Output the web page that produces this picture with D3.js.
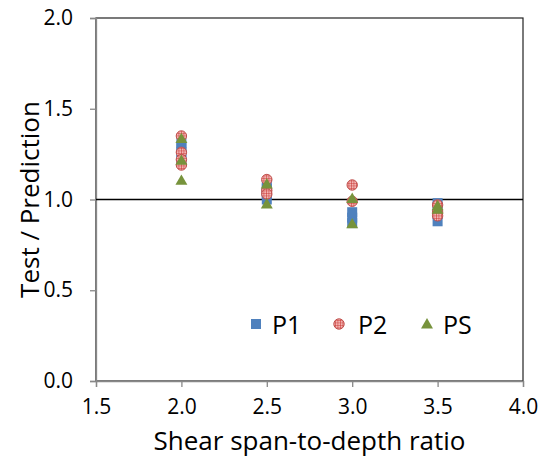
<!DOCTYPE html>
<html>
<head>
<meta charset="utf-8">
<script src="https://cdn.jsdelivr.net/npm/d3@7"></script>
<style>
  body { margin: 0; background: #fff; }
  text { font-family: "Open Sans", Lato, sans-serif; fill: #000; }
</style>
</head>
<body>
<svg class="chart"></svg>
<script>
// Valores
var ratios = [2.0, 2.5, 3.0, 3.5];
var p1 = [[1.22, 1.26, 1.29, 1.31], [1.00, 1.03, 1.06, 1.08], [0.87, 0.90, 0.93], [0.88, 0.92, 0.96, 0.98]];
var p2 = [[1.35, 1.26, 1.22, 1.19], [1.11, 1.05, 1.03], [1.08, 0.99], [0.97, 0.93, 0.91]];
var ps = [[1.33, 1.21, 1.10], [1.08, 0.97], [1.00, 0.86], [0.96, 0.94]];
var xTicks = [1.5, 2.0, 2.5, 3.0, 3.5, 4.0];
var yTicks = [0.0, 0.5, 1.0, 1.5, 2.0];
var seriesNames = ["P1", "P2", "PS"];

var W = 548, H = 457;
var margin = {top: 18, right: 25, bottom: 76, left: 96},
    width = W - margin.left - margin.right,
    height = H - margin.top - margin.bottom;

var svg = d3.select(".chart").attr("width", W).attr("height", H);

// patron de la marca circular
var pat = svg.append("defs").append("pattern")
    .attr("id", "hatch").attr("patternUnits", "userSpaceOnUse")
    .attr("width", 2.5).attr("height", 2.5);
pat.append("rect").attr("width", 2.5).attr("height", 2.5).attr("fill", "#f2b4b2");
pat.append("path").attr("d", "M0,0H2.5M0,0V2.5").attr("stroke", "#c8302c").attr("stroke-width", 1);

var chart = svg.append("g").attr("transform", "translate(" + margin.left + "," + margin.top + ")");

var x = d3.scaleLinear().domain([1.5, 4.0]).range([0, width]);
var y = d3.scaleLinear().domain([0, 2.0]).range([height, 0]);

// marco
chart.append("rect").attr("x", 0).attr("y", 0).attr("width", width).attr("height", height)
    .attr("fill", "none").attr("stroke", "#222").attr("stroke-width", 1.2);

// Eje y
var yAxis = d3.axisLeft(y).tickValues(yTicks).tickFormat(d3.format(".1f")).tickSize(6).tickPadding(17);
var gy = chart.append("g").attr("class", "yaxis").call(yAxis);
// Eje x
var xAxis = d3.axisBottom(x).tickValues(xTicks).tickFormat(d3.format(".1f")).tickSize(6).tickPadding(12);
var gx = chart.append("g").attr("class", "xaxis").attr("transform", "translate(0," + height + ")").call(xAxis);

[gx, gy].forEach(function(g) {
  g.select(".domain").attr("stroke", "#888").attr("stroke-width", 1.3);
  g.selectAll(".tick line").attr("stroke", "#888").attr("stroke-width", 1.3);
  g.selectAll(".tick text").style("font-size", "21px").attr("fill", "#000");
});

// linea de referencia en 1.0
chart.append("line").attr("x1", 0).attr("x2", width).attr("y1", y(1)).attr("y2", y(1))
    .attr("stroke", "#000").attr("stroke-width", 1.3);

function flatten(vals) {
  var out = [];
  vals.forEach(function(arr, i) { arr.forEach(function(v) { out.push({r: ratios[i], v: v}); }); });
  return out;
}

var sq = 10;
chart.selectAll("rect.p1").data(flatten(p1)).enter().append("rect")
    .attr("class", "p1")
    .attr("x", function(d) { return x(d.r) - sq / 2; })
    .attr("y", function(d) { return y(d.v) - sq / 2; })
    .attr("width", sq).attr("height", sq)
    .attr("fill", "#4f81bd");

chart.selectAll("circle.p2").data(flatten(p2)).enter().append("circle")
    .attr("class", "p2")
    .attr("cx", function(d) { return x(d.r); })
    .attr("cy", function(d) { return y(d.v); })
    .attr("r", 5.2)
    .attr("fill", "url(#hatch)").attr("stroke", "#c0504d").attr("stroke-width", 1);

var tri = d3.symbol().type(d3.symbolTriangle).size(62);
chart.selectAll("path.ps").data(flatten(ps)).enter().append("path")
    .attr("class", "ps")
    .attr("transform", function(d) { return "translate(" + x(d.r) + "," + y(d.v) + ")"; })
    .attr("d", tri)
    .attr("fill", "#77933c");

// Leyenda
var legend = svg.append("g");
legend.append("rect").attr("x", 251).attr("y", 319).attr("width", sq).attr("height", sq).attr("fill", "#4f81bd");
legend.append("circle").attr("cx", 339).attr("cy", 324).attr("r", 5.2)
    .attr("fill", "url(#hatch)").attr("stroke", "#c0504d");
legend.append("path").attr("transform", "translate(427,325)").attr("d", tri).attr("fill", "#77933c");
[272, 358, 443].forEach(function(lx, i) {
  legend.append("text").attr("x", lx).attr("y", 334).style("font-size", "25px").text(seriesNames[i]);
});

// Titulos de ejes
svg.append("text").attr("x", margin.left + x(2.75)).attr("y", 450)
    .style("font-size", "26px").style("text-anchor", "middle")
    .text("Shear span-to-depth ratio");
svg.append("text").attr("transform", "translate(39," + (margin.top + y(1)) + ") rotate(-90)")
    .style("font-size", "26px").style("text-anchor", "middle")
    .text("Test / Prediction");
</script>
</body>
</html>
